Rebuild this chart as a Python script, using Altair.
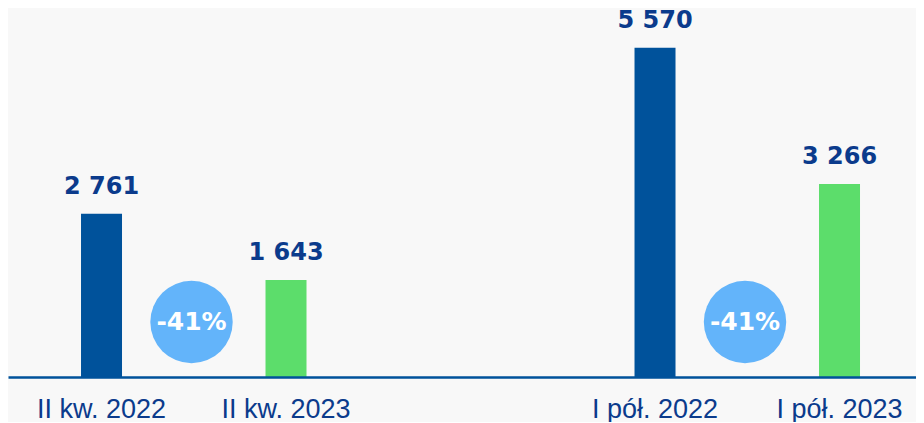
import altair as alt
import pandas as pd

# ---- data ----
categories = ["II kw. 2022", "II kw. 2023", "I pół. 2022", "I pół. 2023"]
values = [2761, 1643, 5570, 3266]
years = ["2022", "2023", "2022", "2023"]
change_anchor = ["II kw. 2022", "I pół. 2022"]
change_labels = ["-41%", "-41%"]
spacer = " "
x_domain = categories[:2] + [spacer] + categories[2:]

# ---- styles ----
BLUE = "#00529b"
GREEN = "#5cdd6b"
LIGHT = "#63b4fa"
NAVY = "#0b3b8c"
BG = "#f8f8f8"

bars_df = pd.DataFrame({
    "cat": categories,
    "value": values,
    "year": years,
    "label": [f"{v:,}".replace(",", " ") for v in values],
})
chg_df = pd.DataFrame({"cat": change_anchor, "change": change_labels})

x_scale = alt.Scale(domain=x_domain, paddingInner=0.7778, paddingOuter=0.3496, align=0.566)
x_axis = alt.Axis(title=None, labelAngle=0, ticks=False, labelPadding=19,
                  labelFontSize=27, labelFont="Liberation Sans", labelColor=NAVY,
                  domainColor=BLUE, domainWidth=2.5, zindex=1, grid=False)
x_enc = alt.X("cat:N", scale=x_scale, axis=x_axis, sort=x_domain)
y_enc = alt.Y("value:Q", scale=alt.Scale(domain=[0, 6227], nice=False, zero=True), axis=None)

base = alt.Chart(bars_df)

bars = base.mark_bar().encode(
    x=x_enc,
    y=y_enc,
    color=alt.Color("year:N", scale=alt.Scale(domain=["2022", "2023"], range=[BLUE, GREEN]), legend=None),
)

value_labels = base.mark_text(
    dy=-20, baseline="alphabetic", align="center",
    font="DejaVu Sans", fontWeight="bold", fontSize=24, color=NAVY,
).encode(x=x_enc, y=y_enc, text="label:N")

circles = alt.Chart(chg_df).mark_circle(
    size=6790, color=LIGHT, opacity=1, xOffset=90, yOffset=-55
).encode(x=x_enc, y=alt.Y(datum=0, type="quantitative"))

circle_text = alt.Chart(chg_df).mark_text(
    xOffset=90, yOffset=-55, baseline="middle", align="center",
    font="DejaVu Sans", fontWeight="bold", fontSize=25, color="white",
).encode(x=x_enc, y=alt.Y(datum=0, type="quantitative"), text="change:N")

chart = alt.layer(bars, value_labels, circles, circle_text).properties(
    width=908, height=368,
    padding={"left": 0, "top": 0, "right": 0, "bottom": 0},
    background=BG,
).configure_view(stroke=None)

chart.save("out.html", embed_options={"renderer": "svg", "actions": False})
